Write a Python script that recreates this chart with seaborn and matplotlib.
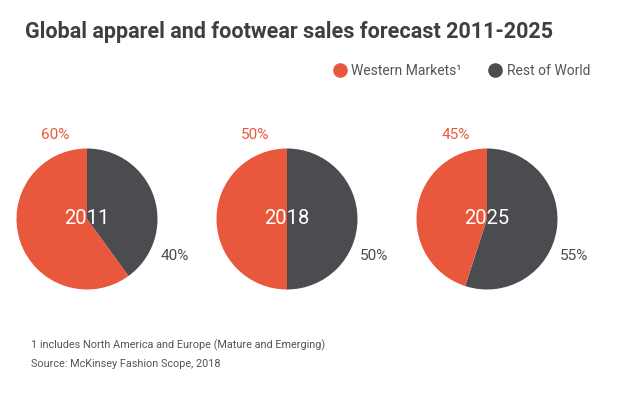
import matplotlib
matplotlib.use("Agg")
import matplotlib.pyplot as plt
from matplotlib.lines import Line2D
import seaborn as sns

# data
years = ["2011", "2018", "2025"]
western = [60, 50, 45]
rest_of_world = [40, 50, 55]
series_names = ["Western Markets\u00b9", "Rest of World"]
title = "Global apparel and footwear sales forecast 2011-2025"
footnotes = ["1 includes North America and Europe (Mature and Emerging)",
             "Source: McKinsey Fashion Scope, 2018"]

RED = "#E9573D"
DARK = "#4A4C50"
TEXT = "#3E3F43"
GREY = "#555558"

sns.set_theme(style="white")
plt.rcParams["font.family"] = ["Roboto", "DejaVu Sans"]

W, H = 620, 394
fig = plt.figure(figsize=(W / 100, H / 100), dpi=100)
fig.patch.set_facecolor("white")

fig.text(25 / W, 1 - 32 / H, title, fontsize=15.5, fontweight="bold",
         color=TEXT, ha="left", va="center")

# pie centres in pixels
centers_x = [87, 287, 487]
center_y = 219
radius = 70.5

for i, year in enumerate(years):
    cx = centers_x[i]
    ax = fig.add_axes([(cx - radius) / W, 1 - (center_y + radius) / H,
                       2 * radius / W, 2 * radius / H])
    ax.pie([rest_of_world[i], western[i]], colors=[DARK, RED],
           startangle=90, counterclock=False, radius=1,
           wedgeprops=dict(linewidth=0))
    ax.set_xlim(-1, 1)
    ax.set_ylim(-1, 1)
    ax.set_aspect("equal")
    ax.text(0, 0, year, color="white", fontsize=14.5,
            ha="center", va="center")
    ax.text(-0.45, 1.19, f"{western[i]}%", color=RED, fontsize=11,
            ha="center", va="center", clip_on=False)
    ax.text(1.24, -0.53, f"{rest_of_world[i]}%", color=DARK, fontsize=11,
            ha="center", va="center", clip_on=False)

handles = [Line2D([], [], marker="o", linestyle="", markersize=9.5,
                  markerfacecolor=c, markeredgecolor=c) for c in [RED, DARK]]
leg = fig.legend(handles, series_names, loc="center right",
                 bbox_to_anchor=(603 / W, 1 - 71 / H), ncol=2, frameon=False,
                 handletextpad=0.35, columnspacing=1.9, handlelength=1.0,
                 prop=dict(size=10))
for t in leg.get_texts():
    t.set_color(GREY)

fig.text(31 / W, 1 - 345 / H, footnotes[0], fontsize=7.8,
         color=GREY, ha="left", va="center")
fig.text(31 / W, 1 - 364 / H, footnotes[1], fontsize=7.8,
         color=GREY, ha="left", va="center")

fig.savefig("out.png", dpi=100, facecolor="white")
